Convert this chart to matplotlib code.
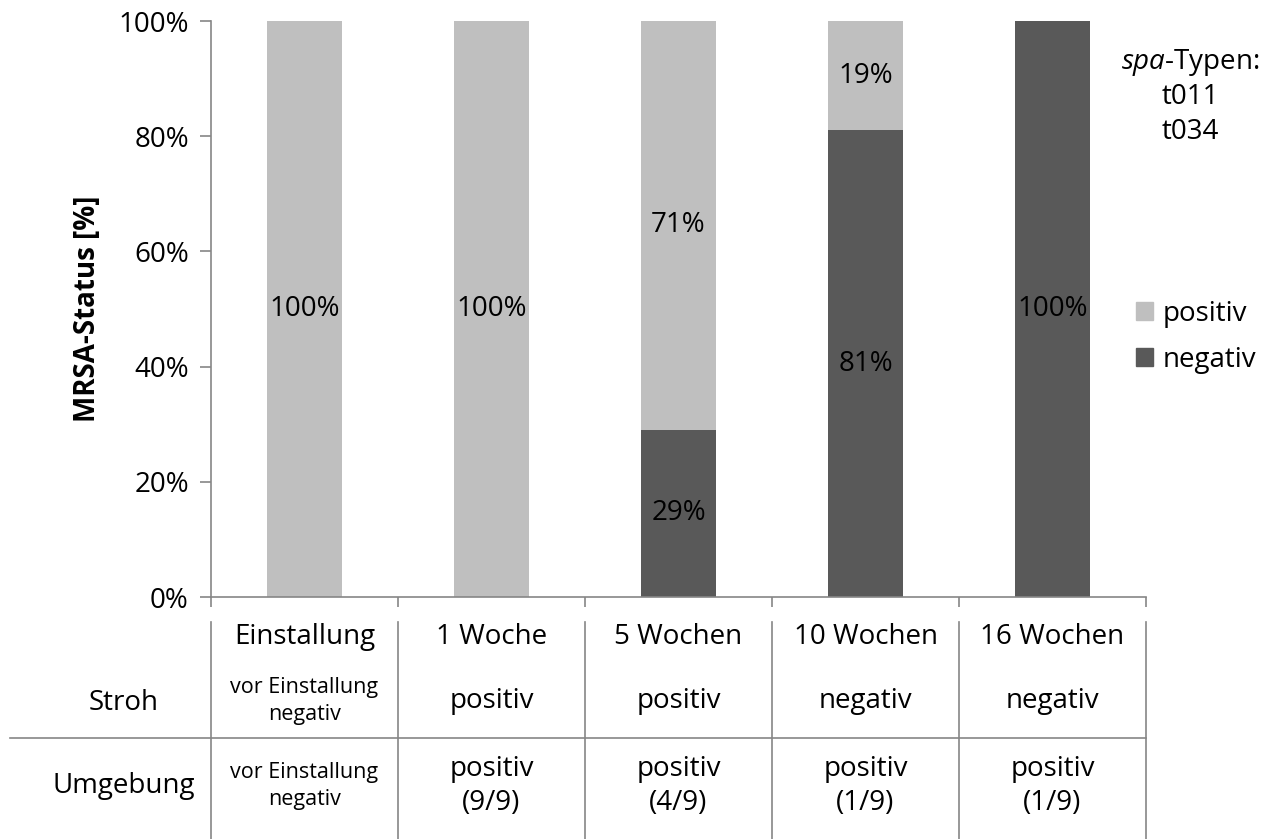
import numpy as np
import matplotlib.pyplot as plt
from matplotlib.patches import Patch

plt.rcParams['font.family'] = ['Open Sans', 'DejaVu Sans']
plt.rcParams['mathtext.fontset'] = 'custom'
plt.rcParams['mathtext.rm'] = 'Open Sans'
plt.rcParams['mathtext.it'] = 'Open Sans:italic'

# MRSA-Status je Zeitpunkt (Anteil in %)
zeitpunkte = ['Einstallung', '1 Woche', '5 Wochen', '10 Wochen', '16 Wochen']
negativ = [0, 0, 29, 81, 100]
positiv = [100, 100, 71, 19, 0]

# Tabelle unter dem Diagramm
stroh = ['vor Einstallung\nnegativ', 'positiv', 'positiv', 'negativ', 'negativ']
umgebung = ['vor Einstallung\nnegativ', 'positiv\n(9/9)', 'positiv\n(4/9)',
            'positiv\n(1/9)', 'positiv\n(1/9)']
spa_typen = ['t011', 't034']

hell = '#bfbfbf'
dunkel = '#595959'
achse = '#868686'
fs = 20

W, H = 1275, 839
fig = plt.figure(figsize=(W / 100, H / 100), dpi=100)
ax = fig.add_axes([211 / W, 1 - 597 / H, 935 / W, 576 / H])

x = np.arange(len(zeitpunkte))
b_neg = ax.bar(x, negativ, width=0.4, color=dunkel, label='negativ')
b_pos = ax.bar(x, positiv, width=0.4, bottom=negativ, color=hell, label='positiv')
for bars, vals in [(b_neg, negativ), (b_pos, positiv)]:
    ax.bar_label(bars, labels=[f'{v}%' if v > 0 else '' for v in vals],
                 label_type='center', fontsize=fs, color='black')

ax.set_xlim(-0.5, len(zeitpunkte) - 0.5)
ax.set_ylim(0, 100)
ax.set_yticks(np.arange(0, 101, 20))
ax.set_yticklabels([f'{v}%' for v in range(0, 101, 20)])
ax.set_xticks(np.arange(-0.5, len(zeitpunkte), 1))
ax.set_xticklabels([])
ax.tick_params(axis='y', labelsize=fs, length=8, width=1.2, color=achse, pad=8)
ax.tick_params(axis='x', length=7, width=1.2, color=achse)
for s in ['top', 'right']:
    ax.spines[s].set_visible(False)
for s in ['left', 'bottom']:
    ax.spines[s].set_color(achse)
    ax.spines[s].set_linewidth(1.2)
ax.set_ylabel('MRSA-Status [%]', fontsize=fs, fontweight='bold', labelpad=12)

# Legende rechts, positiv oben
fig.legend(handles=[Patch(color=hell), Patch(color=dunkel)], labels=['positiv', 'negativ'],
           loc='center left', bbox_to_anchor=(1136 / W, 1 - 337 / H), frameon=False,
           fontsize=fs, handlelength=0.6, handleheight=0.6, handletextpad=0.35,
           labelspacing=0.65, borderpad=0, borderaxespad=0)

fig.text(1190 / W, 1 - 62 / H, r'$\mathit{spa}$-Typen:', fontsize=fs, ha='center', va='center')
for i, t in enumerate(spa_typen):
    fig.text(1190 / W, 1 - (97 + 35 * i) / H, t, fontsize=fs, ha='center', va='center')

# Tabelle: x in Kategorien, y in Pixeln von oben
tab = fig.add_axes([211 / W, 0, 935 / W, 1])
tab.set_xlim(ax.get_xlim())
tab.set_ylim(H, 0)
tab.axis('off')

def px2x(p):
    return -0.5 + (p - 211) / 187

for xi in np.arange(-0.5, len(zeitpunkte), 1):
    tab.plot([xi, xi], [622, H], color=achse, lw=1.2, clip_on=False)
tab.plot([px2x(10), len(zeitpunkte) - 0.5], [738, 738], color=achse, lw=1.2, clip_on=False)

tab.text(px2x(124), 703, 'Stroh', fontsize=fs, ha='center', va='center', clip_on=False)
tab.text(px2x(124), 786, 'Umgebung', fontsize=fs, ha='center', va='center', clip_on=False)

for i, name in enumerate(zeitpunkte):
    tab.text(i, 637, name, fontsize=fs, ha='center', va='center')
    for txt, yc in [(stroh[i], 701), (umgebung[i], 786)]:
        klein = txt.startswith('vor')
        tab.text(i, yc, txt, fontsize=15.5 if klein else fs, ha='center', va='center',
                 multialignment='center', linespacing=1.4 if klein else 1.3)

fig.savefig('out.png', dpi=100)
